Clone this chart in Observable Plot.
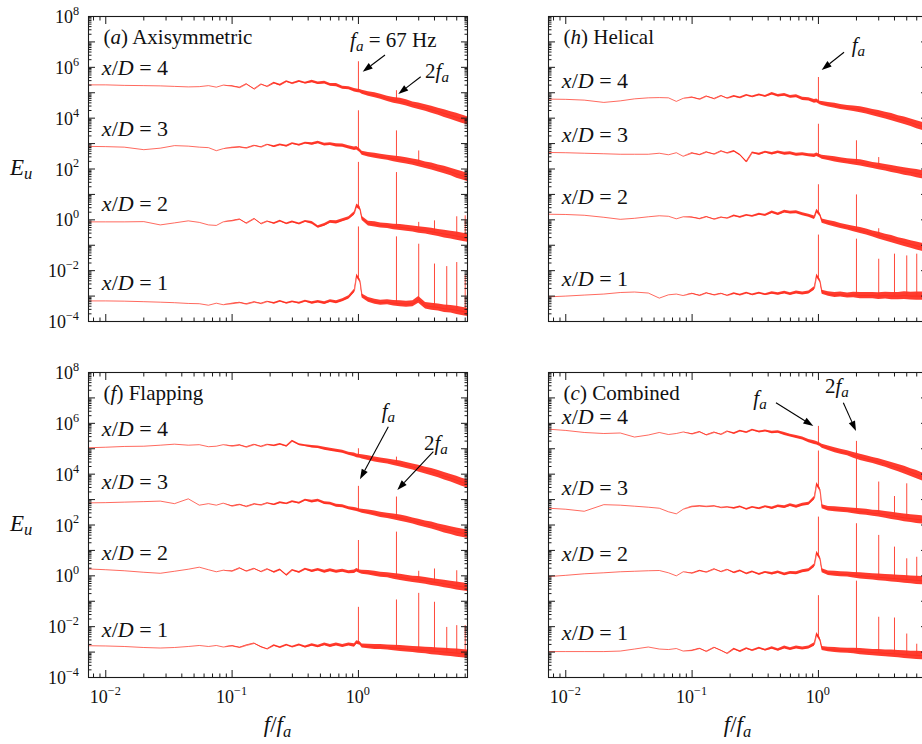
<!DOCTYPE html>
<html><head><meta charset="utf-8">
<script src="https://cdn.jsdelivr.net/npm/d3@7"></script>
<script src="https://cdn.jsdelivr.net/npm/@observablehq/plot@0.6"></script>
<style>
html,body{margin:0;padding:0;background:#fff;overflow:hidden}
#wrap{position:relative;width:922px;height:744px;overflow:hidden;background:#fff}
.p{position:absolute;width:470px}
svg text{white-space:pre}
</style></head><body><div id="wrap"></div>
<script>
// shared frequency grid (f/fa) and noise half-width (decades)
const freq = [0.0073,0.01,0.014,0.02,0.027,0.035,0.045,0.055,0.065,0.075,0.085,0.1,0.115,0.13,0.15,0.17,0.19,0.215,0.24,0.27,0.3,0.34,0.38,0.43,0.48,0.54,0.6,0.67,0.75,0.84,0.93,0.97,1.03,1.07,1.2,1.35,1.5,1.7,1.9,2.15,2.4,2.7,3.0,3.4,3.8,4.3,4.8,5.4,6.0,6.6,7.3];
const spread = [0,0,0,0,0,0,0,0,0,0,0,0.015,0.015,0.015,0.015,0.015,0.015,0.03,0.03,0.03,0.03,0.035,0.035,0.05,0.05,0.055,0.055,0.06,0.06,0.06,0.07,0.07,0.07,0.08,0.09,0.1,0.1,0.1,0.11,0.12,0.12,0.12,0.13,0.13,0.14,0.14,0.15,0.15,0.16,0.16,0.16];
const harmonics = [1,2,3,4,5,6,7];

// log10(E_u) values on the grid
const A4 = [5.31,5.31,5.29,5.28,5.27,5.25,5.23,5.24,5.28,5.22, 5.30,5.26,5.20,5.34,5.14,5.33,5.24,5.38,5.30,5.44, 5.36,5.45,5.38,5.44,5.37,5.40,5.31,5.30,5.20,5.18, 5.10,5.08,5.06,5.02,4.95,4.90,4.84,4.76,4.70,4.66, 4.60,4.52,4.47,4.40,4.33,4.25,4.18,4.10,4.03,3.96, 3.90];
const A3 = [2.89,2.88,2.86,2.76,2.82,2.92,2.90,2.86,2.84,2.72, 2.80,2.84,2.86,2.82,2.92,2.86,2.96,2.88,2.95,2.90, 3.00,2.94,3.02,2.98,3.04,2.96,2.98,2.93,2.92,2.85, 2.80,2.82,2.72,2.62,2.56,2.52,2.48,2.44,2.40,2.36, 2.32,2.27,2.22,2.15,2.10,2.02,1.96,1.88,1.80,1.74, 1.67];
const A2 = [-0.08,-0.08,-0.08,-0.07,-0.20,-0.12,-0.04,-0.10,-0.20,-0.22, -0.08,-0.04,0.02,-0.14,0.04,-0.16,-0.06,-0.14,-0.05,-0.15, -0.08,-0.16,-0.06,-0.12,-0.28,-0.20,-0.08,-0.10,-0.02,0.06, 0.25,0.55,0.45,0.05,-0.15,-0.18,-0.22,-0.24,-0.28,-0.30, -0.33,-0.36,-0.40,-0.43,-0.47,-0.52,-0.56,-0.60,-0.64,-0.68, -0.72];
const A1 = [-3.19,-3.19,-3.20,-3.22,-3.24,-3.26,-3.29,-3.30,-3.36,-3.28, -3.34,-3.30,-3.26,-3.32,-3.24,-3.30,-3.22,-3.28,-3.20,-3.28, -3.22,-3.28,-3.20,-3.27,-3.22,-3.28,-3.20,-3.24,-3.16,-3.05, -2.80,-2.20,-2.40,-3.00,-3.15,-3.22,-3.26,-3.24,-3.28,-3.30, -3.32,-3.30,-3.15,-3.38,-3.42,-3.45,-3.50,-3.52,-3.56,-3.60, -3.64];
const H4 = [4.75,4.74,4.71,4.62,4.68,4.76,4.80,4.81,4.80,4.66, 4.78,4.82,4.74,4.86,4.76,4.88,4.78,4.86,4.80,4.90, 4.84,4.92,4.86,4.96,4.88,4.92,4.84,4.86,4.76,4.74, 4.66,4.68,4.60,4.58,4.53,4.49,4.44,4.40,4.37,4.33, 4.28,4.22,4.17,4.10,4.04,3.96,3.90,3.82,3.74,3.68, 3.62];
const H3 = [2.65,2.64,2.62,2.60,2.58,2.58,2.58,2.62,2.56,2.64, 2.50,2.62,2.56,2.66,2.58,2.70,2.62,2.70,2.55,2.28, 2.64,2.58,2.66,2.60,2.66,2.60,2.62,2.56,2.58,2.54, 2.52,2.56,2.50,2.46,2.42,2.38,2.34,2.30,2.27,2.24, 2.19,2.14,2.10,2.05,2.00,1.95,1.90,1.86,1.82,1.78, 1.74];
const H2 = [0.22,0.21,0.18,0.10,0.02,0.06,0.12,0.16,0.14,0.04, 0.12,0.10,0.04,0.12,0.02,0.10,0.06,0.16,0.10,0.18, 0.14,0.22,0.18,0.30,0.22,0.32,0.28,0.30,0.22,0.16, 0.08,0.35,0.20,-0.05,-0.12,-0.18,-0.24,-0.30,-0.36,-0.42, -0.48,-0.56,-0.62,-0.70,-0.76,-0.84,-0.90,-0.97,-1.03,-1.08, -1.12];
const H1 = [-3.03,-3.00,-2.96,-2.92,-2.86,-2.84,-2.88,-3.08,-2.95,-2.92, -2.98,-2.90,-2.98,-2.88,-2.96,-2.90,-2.98,-2.90,-2.96,-2.88, -2.95,-2.88,-2.94,-2.88,-2.92,-2.86,-2.92,-2.86,-2.90,-2.86, -2.70,-2.20,-2.40,-2.85,-2.92,-2.96,-2.94,-2.98,-2.96,-2.98, -2.98,-2.98,-3.00,-2.98,-3.00,-3.00,-2.98,-3.00,-3.00,-3.00, -3.00];
const F4 = [5.04,5.06,5.09,5.10,5.14,5.18,5.14,5.16,5.08,5.10, 5.16,5.10,5.14,5.06,5.16,5.08,5.16,5.12,5.18,5.10, 5.30,5.16,5.12,5.08,5.06,5.00,4.96,4.92,4.88,4.80, 4.76,4.72,4.70,4.68,4.63,4.58,4.54,4.50,4.45,4.40, 4.34,4.28,4.22,4.14,4.08,4.00,3.92,3.84,3.76,3.68, 3.62];
const F3 = [2.87,2.88,2.90,2.92,2.94,2.84,3.03,2.78,2.84,2.78, 2.86,2.74,2.80,2.72,2.82,2.78,2.86,2.80,2.88,2.84, 2.92,2.86,2.98,2.92,2.96,2.86,2.84,2.76,2.74,2.66, 2.62,2.60,2.56,2.54,2.50,2.45,2.40,2.36,2.32,2.27, 2.22,2.16,2.10,2.03,1.98,1.90,1.84,1.78,1.72,1.68, 1.64];
const F2 = [0.27,0.24,0.20,0.14,0.10,0.18,0.26,0.34,0.24,0.16, 0.22,0.18,0.30,0.18,0.28,0.16,0.26,0.14,0.24,0.02, 0.22,0.14,0.26,0.18,0.24,0.16,0.22,0.16,0.20,0.14, 0.16,0.22,0.16,0.14,0.12,0.08,0.04,0.02,-0.02,-0.06, -0.10,-0.14,-0.16,-0.20,-0.24,-0.28,-0.32,-0.36,-0.40,-0.43, -0.46];
const F1 = [-2.75,-2.76,-2.78,-2.82,-2.84,-2.82,-2.78,-2.74,-2.78,-2.74, -2.80,-2.76,-2.82,-2.74,-2.66,-2.80,-2.88,-2.74,-2.82,-2.72, -2.80,-2.72,-2.80,-2.72,-2.78,-2.70,-2.76,-2.70,-2.76,-2.70, -2.74,-2.62,-2.66,-2.76,-2.78,-2.80,-2.80,-2.82,-2.84,-2.86, -2.88,-2.90,-2.92,-2.94,-2.96,-2.98,-3.00,-3.02,-3.04,-3.06, -3.08];
const C4 = [5.77,5.72,5.64,5.60,5.62,5.46,5.54,5.64,5.56,5.60, 5.66,5.58,5.66,5.54,5.64,5.56,5.68,5.60,5.70,5.64, 5.74,5.66,5.70,5.64,5.66,5.58,5.52,5.46,5.40,5.30, 5.24,5.22,5.16,5.10,5.02,4.94,4.88,4.82,4.74,4.66, 4.60,4.54,4.48,4.40,4.32,4.24,4.16,4.06,3.98,3.90, 3.84];
const C3 = [2.66,2.62,2.54,2.80,2.78,2.74,2.70,2.66,2.52,2.44, 2.62,2.72,2.74,2.72,2.74,2.68,2.70,2.66,2.72,2.62, 2.70,2.64,2.72,2.66,2.74,2.70,2.78,2.72,2.80,2.84, 3.05,3.60,3.40,2.72,2.64,2.62,2.60,2.58,2.55,2.52, 2.50,2.46,2.44,2.40,2.36,2.32,2.28,2.25,2.22,2.20, 2.18];
const C2 = [-0.03,0.02,0.08,0.12,0.16,0.18,0.20,0.21,0.12,0.00, 0.16,0.10,0.20,0.14,0.26,0.16,0.24,0.12,0.20,0.08, 0.16,0.06,0.14,0.08,0.14,0.06,0.12,0.10,0.18,0.22, 0.40,0.90,0.70,0.20,0.10,0.08,0.06,0.05,0.02,0.00, -0.02,-0.04,-0.06,-0.08,-0.10,-0.12,-0.14,-0.16,-0.18,-0.19, -0.20];
const C1 = [-2.98,-2.98,-2.98,-2.98,-2.96,-2.88,-2.80,-2.88,-2.90,-2.86, -2.96,-2.94,-2.86,-2.98,-2.82,-2.94,-3.06,-2.88,-2.98,-2.86, -2.94,-2.84,-2.92,-2.84,-2.92,-2.82,-2.88,-2.82,-2.86,-2.82, -2.70,-2.30,-2.50,-2.86,-2.90,-2.92,-2.94,-2.95,-2.96,-2.98, -3.00,-3.02,-3.03,-3.05,-3.06,-3.08,-3.10,-3.12,-3.13,-3.14, -3.15];

// spike heights (log10) at f/fa = 1..7
const pkA4 = [6.22, 5.08];
const pkA3 = [4.29, 3.50, 2.71];
const pkA2 = [2.26, 1.86, -0.10, -0.04, null, 0.12, 0.16];
const pkA1 = [-0.28, -0.67, -0.96, -1.74, -1.84, -1.68, -2.2];
const pkH4 = [5.60];
const pkH3 = [3.76, 3.11, 2.45];
const pkH2 = [1.38, 0.98, -0.35];
const pkH1 = [-0.60, -0.76, -1.55, -1.35, -1.42, -1.35, -1.4];
const pkF4 = [5.0, 4.67];
const pkF3 = [3.52, 3.10];
const pkF2 = [1.39, 1.72, 0.18, 0.27, null, 0.20];
const pkF1 = [-1.24, -0.95, -0.69, -1.04, -2.03, -1.96, -1.96];
const pkC4 = [5.88, 5.29];
const pkC3 = [4.91, 4.87, 3.69, 3.12, 3.62];
const pkC2 = [2.31, 2.05, 1.59, 1.13, 0.67, 0.73];
const pkC1 = [-0.78, -0.21, -1.63, -1.66, -2.29, -2.69];

// tick labels
const yTickVals = [1e-4, 1e-2, 1, 1e2, 1e4, 1e6, 1e8];
const yTickExp = ["\u22124", "\u22122", "0", "2", "4", "6", "8"];
const xTickVals = [0.01, 0.1, 1];
const xTickExp = ["\u22122", "\u22121", "0"];
const xDomain = [0.0073, 7.3];
const yDomain = [1e-4, 1e8];
const RED = "#ff1a0a", INK = "#1a1a1a", FONT = "Liberation Serif, Times New Roman, serif";

const majorX = [0.01, 0.1, 1];
const minorX = [];
for (const p of [0.001, 0.01, 0.1, 1]) for (let k = 2; k <= 9; k++) { const v = k * p; if (v > xDomain[0] && v < xDomain[1]) minorX.push(v); }
const majorY = []; for (let e = -4; e <= 8; e++) majorY.push(10 ** e);
const minorY = []; for (let e = -4; e < 8; e++) for (let k = 2; k <= 9; k++) minorY.push(k * 10 ** e);

function baseAt(vals, f) {
  const lf = Math.log10(f);
  for (let i = 0; i < freq.length - 1; i++) {
    const a = Math.log10(freq[i]), b = Math.log10(freq[i + 1]);
    if (lf >= a && lf <= b) return vals[i] + (vals[i + 1] - vals[i]) * (lf - a) / (b - a);
  }
  return vals[vals.length - 1];
}

const I = t => ({t, i: true});
const N = t => ({t});
const SUB = t => ({t, i: true, sub: true});

function addText(g, x, y, parts, size = 20, anchor = "start") {
  const t = g.append("text").attr("x", x).attr("y", y).attr("font-size", size)
    .attr("text-anchor", anchor).attr("fill", "#111").attr("font-family", FONT);
  let shifted = 0;
  parts.forEach(p => {
    const ts = t.append("tspan").text(p.t);
    if (p.i) ts.attr("font-style", "italic");
    if (p.sub) { ts.attr("font-size", size * 0.72).attr("dy", size * 0.2); shifted += size * 0.2; }
    else if (p.sup) { ts.attr("font-size", size * 0.68).attr("dy", -size * 0.45); shifted -= size * 0.45; }
    else if (shifted) { ts.attr("dy", -shifted); shifted = 0; }
  });
}
function addArrow(g, x1, y1, x2, y2) {
  const ang = Math.atan2(y2 - y1, x2 - x1), L = 10, W = 3.4;
  const bx = x2 - L * Math.cos(ang), by = y2 - L * Math.sin(ang);
  g.append("line").attr("x1", x1).attr("y1", y1).attr("x2", bx).attr("y2", by).attr("stroke", "#000").attr("stroke-width", 1.1);
  g.append("path").attr("d", `M${x2},${y2}L${bx + W * Math.sin(ang)},${by - W * Math.cos(ang)}L${bx - W * Math.sin(ang)},${by + W * Math.cos(ang)}Z`).attr("fill", "#000");
}

function panel(cfg) {
  const rows = [], peaks = [];
  cfg.series.forEach(([name, vals, pk]) => {
    vals.forEach((v, i) => rows.push({s: name, f: freq[i], E: 10 ** v, lo: 10 ** (v - spread[i]), hi: 10 ** (v + spread[i])}));
    pk.forEach((p, j) => { if (p == null) return; const f = harmonics[j]; peaks.push({s: name, f, base: 10 ** baseAt(vals, f), E: 10 ** p}); });
  });
  const tk = (fn, anchor, ticks, size) => fn(ticks, {anchor, tickSize: -size, tickFormat: () => "", stroke: INK, label: null});
  const chart = Plot.plot({
    width: 470, height: cfg.height,
    marginLeft: 88, marginRight: 3, marginTop: 16, marginBottom: cfg.height - 321,
    style: {background: "transparent", maxWidth: "none", overflow: "visible", fontFamily: FONT},
    x: {type: "log", domain: xDomain},
    y: {type: "log", domain: yDomain},
    marks: [
      Plot.areaY(rows, {x: "f", y1: "lo", y2: "hi", z: "s", fill: RED, fillOpacity: 0.85, clip: true}),
      Plot.lineY(rows, {x: "f", y: "E", z: "s", stroke: "#ff2a1a", strokeWidth: 0.7, clip: true}),
      Plot.ruleX(peaks, {x: "f", y1: "base", y2: "E", stroke: "#ff3525", strokeWidth: 0.9, clip: true}),
      tk(Plot.axisX, "bottom", majorX, 7), tk(Plot.axisX, "bottom", minorX, 3.5),
      tk(Plot.axisX, "top", majorX, 7), tk(Plot.axisX, "top", minorX, 3.5),
      tk(Plot.axisY, "left", majorY, 7), tk(Plot.axisY, "left", minorY, 3.5),
      tk(Plot.axisY, "right", majorY, 7), tk(Plot.axisY, "right", minorY, 3.5),
      Plot.frame({stroke: INK, strokeWidth: 1.1})
    ]
  });
  const xs = chart.scale("x"), ys = chart.scale("y");
  const sx = xs.apply ? v => xs.apply(v) : d3.scaleLog(xs.domain, xs.range);
  const sy = ys.apply ? v => ys.apply(v) : d3.scaleLog(ys.domain, ys.range);
  const g = d3.select(chart).append("g");
  const [fl, fr] = [sx(xDomain[0]), sx(xDomain[1])];
  const [fb, ft] = [sy(yDomain[0]), sy(yDomain[1])];
  // title and x/D labels
  addText(g, sx(cfg.title.f), sy(10 ** cfg.title.e), cfg.title.parts, 21);
  cfg.xd.forEach((e, k) => addText(g, sx(0.0094), sy(10 ** e), [I("x"), N("/"), I("D"), N(" = " + (4 - k))], 22));
  cfg.notes.forEach(n => addText(g, sx(n.f), sy(10 ** n.e), n.parts, 21));
  cfg.arrows.forEach(a => addArrow(g, sx(a[0]), sy(10 ** a[1]), sx(a[2]), sy(10 ** a[3])));
  if (cfg.yLabels) {
    yTickVals.forEach((v, k) => addText(g, fl - 9, sy(v) + 7, [N("10"), {t: yTickExp[k], sup: true}], 18, "end"));
    addText(g, 10, (fb + ft) / 2 + 6, [I("E"), SUB("u")], 23);
  }
  if (cfg.xLabels) {
    xTickVals.forEach((v, k) => addText(g, sx(v), fb + 26, [N("10"), {t: xTickExp[k], sup: true}], 18, "middle"));
    addText(g, (fl + fr) / 2, fb + 55, [I("f"), N("/"), I("f"), SUB("a")], 23, "middle");
  }
  const div = document.createElement("div");
  div.className = "p"; div.style.left = cfg.left + "px"; div.style.top = cfg.top + "px";
  div.appendChild(chart);
  document.getElementById("wrap").appendChild(div);
}

const fa = [I("f"), SUB("a")];
panel({left: 0, top: 0, height: 330, yLabels: true, xLabels: false,
  series: [["4", A4, pkA4], ["3", A3, pkA3], ["2", A2, pkA2], ["1", A1, pkA1]],
  title: {f: 0.0097, e: 6.89, parts: [N("("), I("a"), N(") Axisymmetric")]},
  xd: [5.68, 3.28, 0.33, -2.78],
  notes: [{f: 0.866, e: 6.78, parts: [I("f"), SUB("a"), N(" = 67 Hz")]}, {f: 3.40, e: 5.56, parts: [N("2"), ...fa]}],
  arrows: [[1.638, 6.466, 1.091, 5.809], [3.14, 5.612, 2.087, 4.932]]});
panel({left: 460, top: 0, height: 330, yLabels: false, xLabels: false,
  series: [["4", H4, pkH4], ["3", H3, pkH3], ["2", H2, pkH2], ["1", H1, pkH1]],
  title: {f: 0.0097, e: 6.89, parts: [N("("), I("h"), N(") Helical")]},
  xd: [5.16, 3.06, 0.60, -2.62],
  notes: [{f: 1.851, e: 6.595, parts: fa}],
  arrows: [[1.609, 6.572, 1.071, 5.876]]});
panel({left: 0, top: 356, height: 388, yLabels: true, xLabels: true,
  series: [["4", F4, pkF4], ["3", F3, pkF3], ["2", F2, pkF2], ["1", F1, pkF1]],
  title: {f: 0.0097, e: 6.90, parts: [N("("), I("f"), N(") Flapping")]},
  xd: [5.48, 3.39, 0.60, -2.44],
  notes: [{f: 1.543, e: 6.179, parts: fa}, {f: 3.334, e: 4.932, parts: [N("2"), ...fa]}],
  arrows: [[1.74, 5.848, 1.038, 3.779], [3.952, 4.865, 2.05, 3.358]]});
panel({left: 460, top: 356, height: 388, yLabels: false, xLabels: true,
  series: [["4", C4, pkC4], ["3", C3, pkC3], ["2", C2, pkC2], ["1", C1, pkC1]],
  title: {f: 0.0097, e: 6.90, parts: [N("("), I("c"), N(") Combined")]},
  xd: [5.95, 3.16, 0.56, -2.54],
  notes: [{f: 0.3079, e: 6.702, parts: fa}, {f: 1.137, e: 7.162, parts: [N("2"), ...fa]}],
  arrows: [[0.4656, 6.792, 0.919, 5.876], [1.588, 6.792, 2.001, 5.679]]});
</script></body></html>
